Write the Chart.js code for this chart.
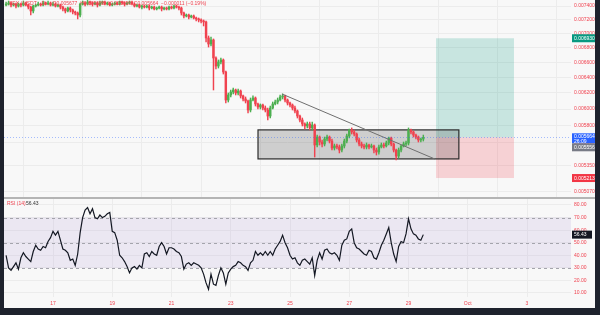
<!DOCTYPE html>
<html>
<head>
<meta charset="utf-8">
<script src="https://cdn.jsdelivr.net/npm/chart.js@4.4.1/dist/chart.umd.min.js"></script>
<style>
  html, body { margin: 0; padding: 0; background: #1e222d; }
  #wrap { position: absolute; left: 4px; top: 0; width: 591px; height: 308px; background: #f8f8f8; }
  #main { position: absolute; left: 0; top: 0; }
  #sep { position: absolute; left: 0; top: 197px; width: 591px; height: 2px; background: #b4b4b4; }
  #rsi { position: absolute; left: 0; top: 199px; }
</style>
</head>
<body>
<div id="wrap">
  <canvas id="main" width="591" height="197"></canvas>
  <div id="sep"></div>
  <canvas id="rsi" width="591" height="109"></canvas>
</div>
<script>
// prices are written in millionths (7415 = 0.007415), 2h candles
var UNIT = 1e-6;
var startDay = 15 + 10 / 24;   // 15 Sep 10:00
var stepDays = 2 / 24;
var firstOpen = 7415;

var closes = [
  7430, 7446, 7415, 7430, 7400, 7430, 7415, 7446, 7415, 7385,
  7326, 7400, 7415, 7430, 7415, 7446, 7430, 7446, 7415, 7430,
  7400, 7415, 7385, 7356, 7326, 7370, 7341, 7311, 7296, 7266,
  7430, 7446, 7430, 7461, 7446, 7430, 7446, 7415, 7446, 7461,
  7430, 7446, 7415, 7430, 7446, 7430, 7461, 7446, 7430, 7446,
  7461, 7430, 7400, 7415, 7385, 7400, 7385, 7400, 7370, 7385,
  7356, 7370, 7385, 7356, 7370, 7356, 7385, 7370, 7400, 7385,
  7370, 7296, 7252, 7266, 7237, 7252, 7222, 7208, 7193, 7178,
  7164, 6934, 6849, 6906, 6657, 6549, 6603, 6630, 6470, 6111,
  6174, 6212, 6237, 6199, 6224, 6162, 6124, 6099, 5988, 6111,
  6136, 6062, 6025, 6049, 6012, 5988, 5915, 6012, 6062, 6086,
  6111, 6149, 6162, 6111, 6074, 6049, 6012, 5976, 5915, 5867,
  5820, 5796, 5820, 5773, 5808, 5576, 5667, 5610, 5587, 5644,
  5667, 5621, 5542, 5565, 5553, 5519, 5565, 5621, 5679, 5749,
  5726, 5702, 5633, 5587, 5565, 5553, 5576, 5553, 5565, 5519,
  5497, 5553, 5576, 5565, 5599, 5656, 5587, 5519, 5452, 5519,
  5565, 5587, 5599, 5749, 5726, 5690, 5667, 5633, 5644, 5664
];
var highs = [
  7461, 7476, 7461, 7446, 7446, 7446, 7446, 7476, 7461, 7430,
  7400, 7415, 7430, 7461, 7446, 7476, 7461, 7476, 7461, 7461,
  7446, 7430, 7430, 7400, 7370, 7385, 7385, 7356, 7326, 7311,
  7446, 7476, 7461, 7491, 7476, 7461, 7461, 7461, 7476, 7476,
  7476, 7461, 7461, 7446, 7461, 7461, 7476, 7476, 7461, 7461,
  7476, 7476, 7446, 7430, 7430, 7415, 7415, 7415, 7415, 7400,
  7400, 7385, 7400, 7400, 7385, 7385, 7400, 7400, 7415, 7415,
  7400, 7385, 7311, 7281, 7281, 7266, 7266, 7237, 7222, 7208,
  7193, 7178, 6962, 6948, 6920, 6671, 6630, 6657, 6644, 6483,
  6199, 6237, 6262, 6249, 6249, 6237, 6174, 6149, 6111, 6136,
  6162, 6149, 6074, 6062, 6062, 6037, 6012, 6037, 6086, 6111,
  6136, 6174, 6187, 6174, 6124, 6086, 6062, 6037, 5988, 5927,
  5891, 5832, 5843, 5843, 5843, 5820, 5690, 5679, 5633, 5667,
  5690, 5679, 5644, 5587, 5587, 5576, 5587, 5644, 5702, 5761,
  5773, 5749, 5714, 5656, 5610, 5587, 5599, 5587, 5587, 5576,
  5542, 5576, 5599, 5599, 5621, 5667, 5667, 5599, 5531, 5542,
  5576, 5610, 5621, 5773, 5761, 5737, 5702, 5679, 5656, 5690
];
var lows = [
  7400, 7415, 7385, 7400, 7370, 7385, 7385, 7400, 7400, 7356,
  7266, 7296, 7385, 7400, 7400, 7400, 7415, 7415, 7400, 7400,
  7385, 7385, 7356, 7326, 7296, 7311, 7311, 7281, 7266, 7208,
  7237, 7415, 7400, 7415, 7415, 7400, 7415, 7385, 7400, 7430,
  7415, 7415, 7400, 7400, 7415, 7415, 7415, 7430, 7400, 7415,
  7430, 7415, 7385, 7385, 7370, 7356, 7370, 7370, 7341, 7356,
  7341, 7341, 7356, 7326, 7341, 7341, 7341, 7356, 7356, 7370,
  7341, 7266, 7222, 7237, 7208, 7222, 7208, 7178, 7164, 7149,
  7106, 6877, 6807, 6821, 6237, 6509, 6522, 6576, 6443, 6074,
  6086, 6149, 6187, 6174, 6174, 6136, 6099, 6074, 5951, 5964,
  6099, 6037, 6000, 6000, 5988, 5964, 5867, 5891, 6000, 6049,
  6062, 6099, 6124, 6086, 6049, 6025, 5988, 5951, 5891, 5843,
  5796, 5761, 5773, 5749, 5749, 5441, 5553, 5576, 5553, 5565,
  5621, 5599, 5519, 5519, 5531, 5486, 5497, 5542, 5599, 5656,
  5702, 5679, 5610, 5565, 5542, 5531, 5531, 5531, 5542, 5486,
  5463, 5474, 5542, 5542, 5553, 5576, 5565, 5497, 5408, 5430,
  5497, 5553, 5565, 5576, 5702, 5667, 5644, 5610, 5610, 5621
];
var rsi14 = [
  40, 30, 28, 31, 34, 29, 38, 42, 39, 37,
  35, 43, 48, 45, 44, 47, 46, 51, 54, 59,
  56, 59, 52, 45, 44, 42, 36, 37, 32, 41,
  58, 70, 76, 78, 73, 77, 70, 69, 72, 70,
  71, 73, 74, 59, 58, 52, 40, 38, 35, 31,
  26, 30, 31, 29, 32, 30, 41, 42, 39, 43,
  41, 40, 47, 50, 47, 41, 46, 46, 45, 43,
  42, 39, 29, 33, 34, 32, 34, 33, 32, 30,
  25, 18, 13, 25, 17, 16, 24, 30, 26, 17,
  26, 29, 31, 32, 35, 34, 32, 31, 28, 34,
  36, 43, 40, 42, 40, 43, 40, 43, 40, 45,
  48, 51, 56, 50, 46, 40, 37, 38, 34, 32,
  36, 37, 35, 33, 38, 24, 36, 42, 37, 44,
  45, 42, 41, 42, 40, 36, 48, 52, 53, 59,
  61, 50, 46, 45, 43, 41, 40, 44, 43, 38,
  37, 42, 48, 52, 57, 62, 50, 41, 35, 47,
  51, 50, 57, 69, 61, 57, 56, 53, 52, 56.43
];

var dayTicks = [17, 19, 21, 23, 25, 27, 29, 31, 33];
var dayLabels = ['17', '19', '21', '23', '25', '27', '29', 'Oct', '3'];
var priceTicks = [0.0074, 0.0072, 0.0070, 0.0068, 0.0066, 0.0064, 0.0062, 0.0060, 0.0058, 0.0056, 0.00535, 0.00507];
var rsiTicks = [10, 20, 30, 40, 50, 60, 70, 80];
var rsiLevels = [70, 50, 30];

// drawings
var positionDays = [29.93, 32.56];
var targetPrice = 0.006930, stopPrice = 0.005213, otherPrice = 0.005556;
var boxDays = [23.92, 30.70];
var boxPrices = [0.005750, 0.005420];
var trendDays = [24.73, 29.89];
var trendPrices = [0.006186, 0.005419];

var xMin = 15.346, xMax = 34.485;
var FONT = 'Liberation Sans, Arial, sans-serif';
var RED = '#f0424f', GREEN = '#4caf50';
var GRID = '#ececec';

var times = closes.map(function (c, i) { return startDay + i * stepDays; });
var opens = closes.map(function (c, i) { return i === 0 ? firstOpen : closes[i - 1]; });
var candleColors = closes.map(function (c, i) { return c >= opens[i] ? GREEN : RED; });
var lastPrice = closes[closes.length - 1] * UNIT;
var lastRsi = rsi14[rsi14.length - 1];

// no extra room for half labels at the plot edges
function noPad(s) {
  s.paddingTop = 0; s.paddingBottom = 0; s.paddingLeft = 0; s.paddingRight = 0;
}

function tag(ctx, x, y, w, h, bg, lines) {
  ctx.fillStyle = bg;
  ctx.fillRect(x, y, w, h);
  ctx.fillStyle = '#ffffff';
  ctx.font = '5px ' + FONT;
  ctx.textBaseline = 'middle';
  ctx.textAlign = 'left';
  var lh = h / lines.length;
  lines.forEach(function (t, k) { ctx.fillText(t, x + 2, y + lh * k + lh / 2 + 0.5); });
}

var drawings = {
  id: 'drawings',
  beforeDatasetsDraw: function (chart) {
    var ctx = chart.ctx, x = chart.scales.x, y = chart.scales.y;
    ctx.save();
    var x0 = x.getPixelForValue(positionDays[0]), x1 = x.getPixelForValue(positionDays[1]);
    var yT = y.getPixelForValue(targetPrice), yE = y.getPixelForValue(lastPrice), yS = y.getPixelForValue(stopPrice);
    ctx.fillStyle = 'rgba(8,153,129,0.2)';
    ctx.fillRect(x0, yT, x1 - x0, yE - yT);
    ctx.fillStyle = 'rgba(242,54,69,0.2)';
    ctx.fillRect(x0, yE, x1 - x0, yS - yE);

    var bx0 = x.getPixelForValue(boxDays[0]), bx1 = x.getPixelForValue(boxDays[1]);
    var by0 = y.getPixelForValue(boxPrices[0]), by1 = y.getPixelForValue(boxPrices[1]);
    ctx.fillStyle = 'rgba(40,40,40,0.2)';
    ctx.fillRect(bx0, by0, bx1 - bx0, by1 - by0);
    ctx.strokeStyle = '#2a2a2a';
    ctx.lineWidth = 1.2;
    ctx.strokeRect(bx0, by0, bx1 - bx0, by1 - by0);
    ctx.restore();
  },
  afterDatasetsDraw: function (chart) {
    var ctx = chart.ctx, a = chart.chartArea, y = chart.scales.y;
    ctx.save();
    var yp = Math.round(y.getPixelForValue(lastPrice)) + 0.5;
    ctx.strokeStyle = 'rgba(41,98,255,0.4)';
    ctx.lineWidth = 1;
    ctx.setLineDash([1, 2]);
    ctx.beginPath();
    ctx.moveTo(a.left, yp);
    ctx.lineTo(a.right, yp);
    ctx.stroke();
    ctx.setLineDash([]);

    ctx.font = '5px ' + FONT;
    ctx.textBaseline = 'middle';
    ctx.fillStyle = RED;
    ctx.fillText('SEX / USDT \u00b7 1h \u00b7  O0.005677  H0.005688  L0.005656  C0.005664  \u22120.000011 (\u22120.19%)', 5, 4);
    ctx.restore();
  },
  afterDraw: function (chart) {
    var ctx = chart.ctx, a = chart.chartArea, y = chart.scales.y;
    ctx.save();
    var lx = a.right + 1, w = 23;
    var yT = y.getPixelForValue(targetPrice);
    tag(ctx, lx, yT - 4, w, 8, '#089981', [targetPrice.toFixed(6)]);
    var yE = y.getPixelForValue(lastPrice);
    tag(ctx, lx, yE - 4, w, 10, '#2962ff', [lastPrice.toFixed(6), '26:09']);
    tag(ctx, lx, Math.max(yE + 6, y.getPixelForValue(otherPrice) - 4), w, 8, '#787b86', [otherPrice.toFixed(6)]);
    var yS = y.getPixelForValue(stopPrice);
    tag(ctx, lx, yS - 4, w, 8, '#f23645', [stopPrice.toFixed(6)]);
    ctx.restore();
  }
};

new Chart(document.getElementById('main'), {
  type: 'bar',
  data: {
    datasets: [{
      label: 'wicks',
      data: times.map(function (t, i) { return { x: t, y: [lows[i] * UNIT, highs[i] * UNIT] }; }),
      backgroundColor: candleColors,
      barThickness: 0.8,
      grouped: false,
      order: 2
    }, {
      label: 'bodies',
      data: times.map(function (t, i) { return { x: t, y: [opens[i] * UNIT, closes[i] * UNIT] }; }),
      backgroundColor: candleColors,
      barThickness: 1.8,
      grouped: false,
      order: 1
    }, {
      type: 'line',
      label: 'trend',
      data: trendDays.map(function (d, i) { return { x: d, y: trendPrices[i] }; }),
      borderColor: '#6e6e6e',
      borderWidth: 1,
      pointRadius: 0,
      order: 0
    }]
  },
  options: {
    responsive: false,
    animation: false,
    devicePixelRatio: 1,
    layout: { padding: 0 },
    plugins: { legend: { display: false }, tooltip: { enabled: false } },
    scales: {
      x: {
        type: 'linear', min: xMin, max: xMax, offset: false,
        afterBuildTicks: function (s) { s.ticks = dayTicks.map(function (v) { return { value: v }; }); },
        ticks: { display: false },
        grid: { color: GRID, drawTicks: false },
        border: { display: false },
        afterFit: function (s) { s.height = 0; noPad(s); }
      },
      y: {
        type: 'logarithmic', position: 'right', min: 0.0050155, max: 0.0074915,
        afterBuildTicks: function (s) { s.ticks = priceTicks.map(function (v) { return { value: v }; }); },
        ticks: {
          color: RED, padding: 3, autoSkip: false,
          font: { size: 5, family: FONT },
          callback: function (v) { return Number(v).toFixed(6); }
        },
        grid: { color: GRID, drawTicks: false },
        border: { display: false },
        afterFit: function (s) { s.width = 24; noPad(s); }
      }
    }
  },
  plugins: [drawings]
});

var rsiDeco = {
  id: 'rsiDeco',
  beforeDatasetsDraw: function (chart) {
    var ctx = chart.ctx, a = chart.chartArea, y = chart.scales.y;
    ctx.save();
    var y70 = y.getPixelForValue(rsiLevels[0]), y30 = y.getPixelForValue(rsiLevels[2]);
    ctx.fillStyle = 'rgba(126,87,194,0.1)';
    ctx.fillRect(a.left, y70, a.right - a.left, y30 - y70);
    ctx.strokeStyle = '#a4a4ac';
    ctx.lineWidth = 1;
    ctx.setLineDash([3, 3]);
    rsiLevels.forEach(function (v) {
      var py = Math.round(y.getPixelForValue(v)) + 0.5;
      ctx.beginPath();
      ctx.moveTo(a.left, py);
      ctx.lineTo(a.right, py);
      ctx.stroke();
    });
    ctx.restore();
  },
  afterDraw: function (chart) {
    var ctx = chart.ctx, a = chart.chartArea, y = chart.scales.y;
    ctx.save();
    ctx.font = '5px ' + FONT;
    ctx.textBaseline = 'middle';
    ctx.fillStyle = RED;
    ctx.fillText('RSI (14)', 3, 5);
    ctx.fillStyle = '#333333';
    ctx.fillText(lastRsi.toFixed(2), 22, 5);
    tag(ctx, a.right + 1, y.getPixelForValue(lastRsi) - 4, 20, 8, '#131722', [lastRsi.toFixed(2)]);
    ctx.restore();
  }
};

new Chart(document.getElementById('rsi'), {
  type: 'line',
  data: {
    datasets: [{
      data: times.map(function (t, i) { return { x: t, y: rsi14[i] }; }),
      borderColor: '#131722',
      borderWidth: 1.2,
      pointRadius: 0,
      tension: 0
    }]
  },
  options: {
    responsive: false,
    animation: false,
    devicePixelRatio: 1,
    layout: { padding: 0 },
    plugins: { legend: { display: false }, tooltip: { enabled: false } },
    scales: {
      x: {
        type: 'linear', min: xMin, max: xMax, offset: false,
        afterBuildTicks: function (s) { s.ticks = dayTicks.map(function (v) { return { value: v }; }); },
        ticks: {
          color: RED, padding: 4, autoSkip: false, maxRotation: 0,
          font: { size: 5, family: FONT },
          callback: function (v, i) { return dayLabels[i]; }
        },
        grid: { color: GRID, drawTicks: false },
        border: { display: false },
        afterFit: function (s) { s.height = 11; noPad(s); }
      },
      y: {
        type: 'linear', position: 'right', min: 6.81, max: 84.77,
        afterBuildTicks: function (s) { s.ticks = rsiTicks.map(function (v) { return { value: v }; }); },
        ticks: {
          color: RED, padding: 3, autoSkip: false,
          font: { size: 5, family: FONT },
          callback: function (v) { return Number(v).toFixed(2); }
        },
        grid: { color: GRID, drawTicks: false },
        border: { display: false },
        afterFit: function (s) { s.width = 24; noPad(s); }
      }
    }
  },
  plugins: [rsiDeco]
});
</script>
</body>
</html>
